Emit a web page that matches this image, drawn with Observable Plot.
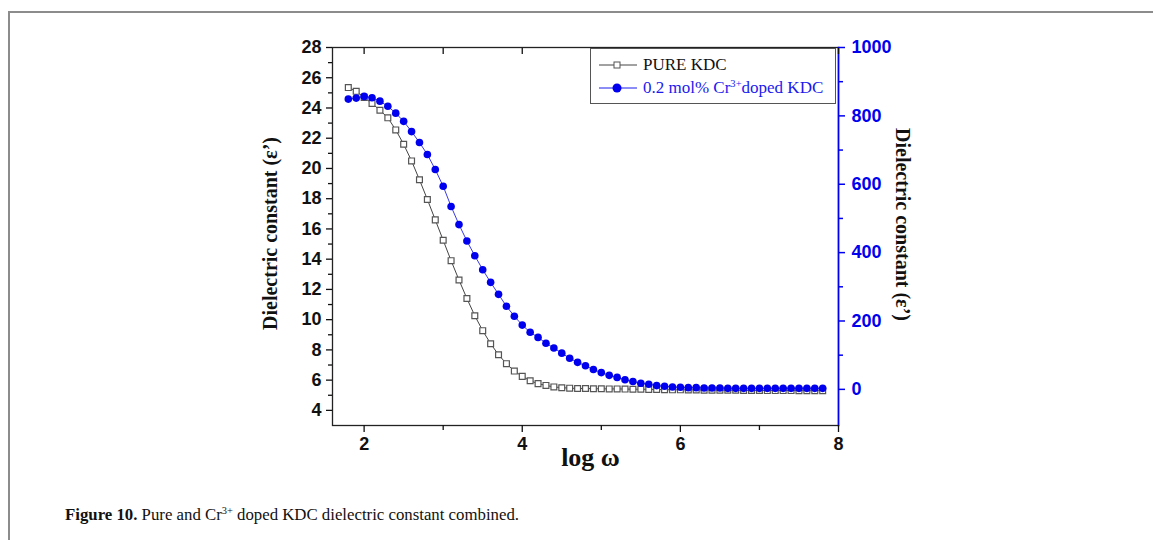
<!DOCTYPE html>
<html>
<head>
<meta charset="utf-8">
<script src="https://cdn.jsdelivr.net/npm/d3@7"></script>
<script src="https://cdn.jsdelivr.net/npm/@observablehq/plot@0.6"></script>
<style>
  html, body { margin: 0; padding: 0; background: #fff; }
  #page { position: relative; width: 1153px; height: 540px; overflow: hidden; background: #fff; }
  #border { position: absolute; left: 8px; top: 11px; width: 1200px; height: 600px;
            border-top: 2px solid #8c8c8c; border-left: 2px solid #8c8c8c; }
  #chart { position: absolute; left: 0; top: 0; }
  #legend { position: absolute; left: 590px; top: 48px; width: 246px; height: 56px;
            border: 1px solid #555; background: #fff; box-sizing: border-box;
            font-family: "Liberation Serif", serif; font-size: 17px; }
  .lg-row { position: absolute; left: 6px; height: 20px; display: flex; align-items: center; white-space: nowrap; }
  .lg-row svg { margin-right: 4px; }
  #caption { position: absolute; left: 65px; top: 505px; font-family: "Liberation Serif", serif;
             font-size: 16.8px; color: #111; white-space: nowrap; }
  sup { font-size: 0.62em; vertical-align: 0; position: relative; top: -0.55em; }
</style>
</head>
<body>
<div id="page">
  <div id="border"></div>
  <div id="chart"></div>
  <div id="legend">
    <div class="lg-row" style="top:6px;color:#111;">
      <svg width="42" height="12"><line x1="2" y1="6" x2="40" y2="6" stroke="#444" stroke-width="1"/><rect x="17" y="3" width="6" height="6" fill="#fff" stroke="#555" stroke-width="1"/></svg>
      <span>PURE KDC</span>
    </div>
    <div class="lg-row" style="top:29px;color:#1a1aee;">
      <svg width="42" height="12"><line x1="2" y1="6" x2="40" y2="6" stroke="#1a1aee" stroke-width="1"/><circle cx="20" cy="6" r="4.5" fill="#0000ee"/></svg>
      <span>0.2 mol% Cr<sup>3+</sup>doped KDC</span>
    </div>
  </div>
  <div id="caption"><b>Figure 10.</b> Pure and Cr<sup>3+</sup> doped KDC dielectric constant combined.</div>
</div>
<script>
// ---- data ----
const logW = [1.8, 1.9, 2.0, 2.1, 2.2, 2.3, 2.4, 2.5, 2.6, 2.7,
              2.8, 2.9, 3.0, 3.1, 3.2, 3.3, 3.4, 3.5, 3.6, 3.7,
              3.8, 3.9, 4.0, 4.1, 4.2, 4.3, 4.4, 4.5, 4.6, 4.7,
              4.8, 4.9, 5.0, 5.1, 5.2, 5.3, 5.4, 5.5, 5.6, 5.7,
              5.8, 5.9, 6.0, 6.1, 6.2, 6.3, 6.4, 6.5, 6.6, 6.7,
              6.8, 6.9, 7.0, 7.1, 7.2, 7.3, 7.4, 7.5, 7.6, 7.7, 7.8];
// left axis (ε')
const pureKDC = [25.35, 25.1, 24.7, 24.3, 23.85, 23.35, 22.55, 21.6, 20.5, 19.25,
                 17.95, 16.6, 15.25, 13.9, 12.62, 11.4, 10.26, 9.27, 8.41, 7.68,
                 7.09, 6.6, 6.25, 5.96, 5.77, 5.65, 5.55, 5.5, 5.47, 5.45,
                 5.45, 5.43, 5.43, 5.42, 5.42, 5.41, 5.4, 5.4, 5.39, 5.38,
                 5.37, 5.36, 5.36, 5.35, 5.35, 5.34, 5.34, 5.33, 5.33, 5.33,
                 5.32, 5.32, 5.32, 5.31, 5.31, 5.31, 5.31, 5.3, 5.3, 5.3, 5.3];
// right axis (ε')
const dopedKDC = [849, 852, 857, 853, 843, 828, 808, 784, 754, 722,
                  687, 643, 594, 535, 482, 434, 391, 350, 313, 278,
                  243, 214, 188, 167, 152, 135, 121, 106, 91, 79,
                  69, 58, 49, 41, 35, 28, 23, 18, 15, 11,
                  9, 7, 6, 5, 5, 4, 4, 4, 3, 3,
                  3, 3, 3, 3, 3, 3, 3, 3, 3, 3, 3];

const xTicks = [2, 4, 6, 8];
const xMinorTicks = [3, 5, 7];
const topTicks = [2, 3, 4, 5, 6, 7, 8];
const leftTicks = [4, 6, 8, 10, 12, 14, 16, 18, 20, 22, 24, 26, 28];
const leftMinorTicks = [5, 7, 9, 11, 13, 15, 17, 19, 21, 23, 25, 27];
const rightTicks = [0, 200, 400, 600, 800, 1000];
const rightMinorTicks = [100, 300, 500, 700, 900];

const xLabel = "log ω";
const yLabel = "Dielectric constant (ε’)";

// ---- dual-axis mapping: right value -> left scale ----
const leftDomain = [3, 28];
const xDomain = [1.6, 8];
const rightZeroOnLeft = 5.39, rightTop = 1000;
const toLeft = r => rightZeroOnLeft + r * (leftDomain[1] - rightZeroOnLeft) / rightTop;
const fromLeft = v => (v - rightZeroOnLeft) * rightTop / (leftDomain[1] - rightZeroOnLeft);

const pureRows = logW.map((x, i) => ({x, y: pureKDC[i]}));
const dopedRows = logW.map((x, i) => ({x, y: toLeft(dopedKDC[i])}));

const BLUE = "#0000ee";
const tickFont = {fontSize: 18, fontWeight: "bold", fontFamily: "Liberation Sans, Arial, sans-serif"};
const blank = () => "";

const chart = Plot.plot({
  width: 1153,
  height: 490,
  marginLeft: 332,
  marginRight: 315,
  marginTop: 47,
  marginBottom: 65,
  x: {domain: xDomain, label: null},
  y: {domain: leftDomain, label: null},
  style: {background: "transparent", color: "#111"},
  marks: [
    Plot.frame({stroke: "#222", strokeWidth: 1.3}),
    Plot.frame({anchor: "right", stroke: BLUE, strokeWidth: 1.6}),
    // bottom axis
    Plot.axisX(xTicks, {anchor: "bottom", tickSize: 7, tickPadding: 5, label: null, strokeWidth: 1.3, ...tickFont}),
    Plot.axisX(xMinorTicks, {anchor: "bottom", tickSize: 5, tickFormat: blank, label: null, strokeWidth: 1.3}),
    // top (inward) ticks
    Plot.axisX(topTicks, {anchor: "top", tickSize: -6, tickFormat: blank, label: null, strokeWidth: 1.3}),
    // left axis
    Plot.axisY(leftTicks, {anchor: "left", tickSize: 6, tickPadding: 5, label: null, strokeWidth: 1.3, ...tickFont}),
    Plot.axisY(leftMinorTicks, {anchor: "left", tickSize: 4, tickFormat: blank, label: null, strokeWidth: 1.3}),
    // right axis (blue)
    Plot.axisY(rightTicks.map(toLeft), {anchor: "right", tickSize: 6, tickPadding: 7, label: null, color: BLUE, strokeWidth: 1.5,
      tickFormat: d => String(Math.round(fromLeft(d))), ...tickFont}),
    Plot.axisY(rightMinorTicks.map(toLeft), {anchor: "right", tickSize: 4, tickFormat: blank, label: null, color: BLUE, strokeWidth: 1.5}),
    // series
    Plot.line(pureRows, {x: "x", y: "y", stroke: "#444", strokeWidth: 1}),
    Plot.dot(pureRows, {x: "x", y: "y", symbol: "square", r: 3.3, stroke: "#555", strokeWidth: 1.2, fill: "white"}),
    Plot.line(dopedRows, {x: "x", y: "y", stroke: "#3a3ae0", strokeWidth: 1}),
    Plot.dot(dopedRows, {x: "x", y: "y", r: 3.8, fill: BLUE, stroke: "none"}),
    // axis titles
    Plot.text([xLabel], {text: d => d, frameAnchor: "bottom", textAnchor: "middle", dx: 5, dy: 32, fontSize: 26, fontWeight: "bold",
      fontFamily: "Liberation Serif, serif", fill: "#111", lineAnchor: "middle"}),
    Plot.text([yLabel], {text: d => d, frameAnchor: "left", textAnchor: "middle", rotate: -90, dx: -62, dy: -3, fontSize: 20, fontWeight: "bold",
      fontFamily: "Liberation Serif, serif", fill: "#111"}),
    Plot.text([yLabel], {text: d => d, frameAnchor: "right", textAnchor: "middle", rotate: 90, dx: 64, dy: -12, fontSize: 20, fontWeight: "bold",
      fontFamily: "Liberation Serif, serif", fill: "#111"})
  ]
});
document.getElementById("chart").appendChild(chart);
</script>
</body>
</html>
